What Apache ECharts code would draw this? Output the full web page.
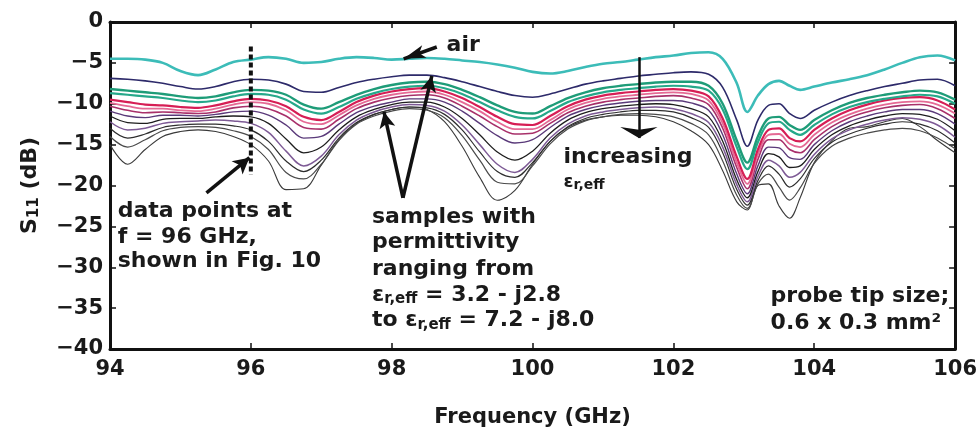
<!DOCTYPE html>
<html><head><meta charset="utf-8">
<script src="https://cdn.jsdelivr.net/npm/echarts@6/dist/echarts.min.js"></script>
<style>html,body{margin:0;padding:0;background:#fff}#c{width:980px;height:445px}</style>
</head><body><div id="c"></div>
<script>
const freq = [94,94.25,94.5,94.75,95,95.25,95.5,95.75,96,96.25,96.5,96.75,97,97.25,97.5,97.75,98,98.25,98.5,98.75,99,99.25,99.5,99.75,100,100.25,100.5,100.75,101,101.25,101.5,101.75,102,102.25,102.5,102.7,102.9,103.05,103.2,103.35,103.5,103.65,103.8,104,104.25,104.5,104.75,105,105.25,105.5,105.75,106];

const sAir = [-4.5,-4.5,-4.6,-5.0,-6.0,-6.5,-5.8,-4.9,-4.6,-4.3,-4.5,-5.0,-4.9,-4.5,-4.3,-4.4,-4.6,-4.5,-4.4,-4.5,-4.7,-4.9,-5.2,-5.6,-6.1,-6.3,-6.0,-5.5,-5.1,-4.9,-4.6,-4.3,-4.1,-3.8,-3.7,-4.5,-7.5,-11.0,-9.0,-7.6,-7.2,-7.8,-8.3,-7.9,-7.4,-7.0,-6.5,-5.8,-5.0,-4.3,-4.1,-4.7];
const s02 = [-6.9,-7.0,-7.2,-7.5,-7.9,-8.2,-7.9,-7.3,-7.0,-7.1,-7.6,-8.5,-8.6,-8.0,-7.4,-7.0,-6.7,-6.5,-6.5,-6.8,-7.3,-7.9,-8.5,-9.0,-9.2,-8.8,-8.2,-7.6,-7.2,-6.9,-6.6,-6.4,-6.2,-6.1,-6.4,-8.0,-12.0,-15.2,-12.0,-10.2,-10.0,-11.2,-11.8,-10.8,-9.8,-9.0,-8.4,-7.9,-7.5,-7.1,-7.0,-7.8];
const s03 = [-8.2,-8.4,-8.6,-8.8,-9.1,-9.3,-9.1,-8.6,-8.3,-8.4,-8.9,-10.1,-10.6,-9.8,-8.9,-8.2,-7.7,-7.4,-7.3,-7.6,-8.3,-9.2,-10.2,-11.0,-11.2,-10.3,-9.3,-8.6,-8.1,-7.8,-7.6,-7.4,-7.3,-7.3,-7.8,-10.0,-14.5,-17.2,-14.0,-11.8,-11.6,-12.6,-13.2,-12.0,-10.8,-9.9,-9.3,-8.9,-8.6,-8.4,-8.6,-9.5];
const s04 = [-8.7,-8.9,-9.1,-9.3,-9.6,-9.8,-9.6,-9.1,-8.8,-8.9,-9.5,-10.7,-11.2,-10.4,-9.4,-8.7,-8.2,-7.9,-7.8,-8.1,-8.8,-9.8,-10.8,-11.6,-11.8,-10.9,-9.8,-9.1,-8.6,-8.3,-8.1,-7.9,-7.8,-7.9,-8.4,-10.7,-15.3,-18.0,-14.7,-12.4,-12.2,-13.2,-13.8,-12.6,-11.3,-10.4,-9.8,-9.4,-9.1,-8.9,-9.1,-10.0];
const s05 = [-9.5,-9.8,-10.1,-10.2,-10.4,-10.5,-10.2,-9.7,-9.4,-9.6,-10.3,-11.6,-12.0,-11.0,-9.8,-9.0,-8.5,-8.2,-8.1,-8.5,-9.3,-10.4,-11.6,-12.5,-12.6,-11.5,-10.3,-9.5,-9.0,-8.7,-8.5,-8.3,-8.2,-8.4,-9.1,-11.8,-16.5,-19.2,-15.6,-13.2,-13.0,-14.2,-14.6,-13.2,-11.8,-10.8,-10.1,-9.6,-9.3,-9.2,-9.6,-10.7];
const s06 = [-9.9,-10.3,-10.6,-10.6,-10.8,-10.9,-10.6,-10.1,-9.8,-10.0,-10.8,-12.2,-12.5,-11.4,-10.2,-9.4,-8.9,-8.6,-8.5,-8.9,-9.8,-10.9,-12.2,-13.1,-13.1,-12.0,-10.7,-9.9,-9.4,-9.1,-8.9,-8.7,-8.6,-8.8,-9.6,-12.4,-17.2,-19.8,-16.2,-13.8,-13.7,-14.9,-15.3,-13.8,-12.3,-11.3,-10.6,-10.1,-9.8,-9.7,-10.1,-11.2];
const s07 = [-10.3,-10.8,-11.1,-11.0,-11.1,-11.2,-11.0,-10.5,-10.3,-10.6,-11.5,-12.9,-13.1,-11.9,-10.6,-9.8,-9.3,-9.0,-8.9,-9.3,-10.3,-11.5,-12.8,-13.7,-13.6,-12.4,-11.1,-10.3,-9.8,-9.5,-9.3,-9.1,-9.0,-9.3,-10.1,-13.0,-17.8,-20.4,-16.8,-14.4,-14.4,-15.6,-16.0,-14.4,-12.8,-11.7,-11.0,-10.5,-10.2,-10.1,-10.6,-11.8];
const s08 = [-10.9,-11.5,-11.7,-11.4,-11.4,-11.5,-11.3,-11.0,-10.9,-11.4,-12.6,-14.2,-14.0,-12.5,-11.1,-10.3,-9.8,-9.4,-9.4,-9.8,-10.9,-12.4,-13.9,-14.8,-14.4,-12.9,-11.5,-10.7,-10.2,-9.9,-9.7,-9.6,-9.6,-9.9,-10.8,-13.8,-18.6,-21.0,-17.6,-15.3,-15.4,-16.6,-16.8,-15.0,-13.3,-12.2,-11.5,-11.0,-10.7,-10.7,-11.2,-12.5];
const s09 = [-11.5,-12.3,-12.4,-11.9,-11.8,-11.8,-11.6,-11.5,-11.6,-12.4,-14.3,-16.0,-15.3,-13.2,-11.6,-10.7,-10.1,-9.8,-9.8,-10.4,-11.8,-13.8,-15.9,-16.9,-15.8,-13.6,-12.0,-11.1,-10.6,-10.3,-10.1,-10.0,-10.1,-10.6,-11.6,-14.6,-19.3,-21.5,-18.3,-16.1,-16.5,-17.8,-17.6,-15.6,-13.8,-12.7,-12.0,-11.5,-11.2,-11.3,-11.9,-13.3];
const s10 = [-12.2,-13.2,-13.0,-12.4,-12.2,-12.1,-12.0,-12.1,-12.4,-13.5,-15.8,-17.6,-16.4,-13.8,-12.0,-11.0,-10.4,-10.1,-10.2,-10.9,-12.6,-15.0,-17.4,-18.4,-16.8,-14.2,-12.5,-11.5,-11.0,-10.7,-10.5,-10.4,-10.6,-11.2,-12.3,-15.3,-19.9,-22.0,-18.9,-16.9,-17.6,-19.0,-18.4,-16.2,-14.3,-13.2,-12.5,-12.0,-11.7,-11.9,-12.6,-14.1];
const s11 = [-13.0,-14.2,-13.7,-12.9,-12.6,-12.5,-12.5,-12.7,-13.2,-14.6,-17.0,-18.3,-16.9,-14.2,-12.3,-11.3,-10.7,-10.4,-10.5,-11.3,-13.2,-15.9,-18.3,-19.0,-17.2,-14.6,-12.8,-11.8,-11.3,-11.0,-10.8,-10.8,-11.0,-11.7,-12.9,-16.0,-20.5,-22.4,-19.4,-17.6,-18.6,-20.2,-19.2,-16.7,-14.7,-13.7,-13.0,-12.5,-12.2,-12.5,-13.3,-14.8];
const s12 = [-14.0,-15.3,-14.4,-13.3,-12.9,-12.8,-12.9,-13.3,-14.0,-15.6,-18.4,-19.2,-17.4,-14.5,-12.5,-11.5,-10.9,-10.6,-10.8,-11.7,-13.9,-16.9,-19.6,-19.8,-17.6,-14.9,-13.1,-12.1,-11.6,-11.3,-11.2,-11.3,-11.6,-12.4,-13.8,-17.0,-21.2,-22.8,-19.8,-18.6,-20.2,-21.8,-20.3,-17.3,-15.2,-14.2,-13.6,-13.2,-13.0,-13.3,-14.2,-15.5];
const s13 = [-15.0,-17.4,-15.6,-14.0,-13.4,-13.2,-13.4,-14.0,-15.0,-17.0,-20.5,-20.4,-17.5,-14.4,-12.4,-11.3,-10.7,-10.4,-10.7,-12.2,-15.2,-19.0,-21.8,-20.6,-17.4,-14.6,-12.9,-12.0,-11.6,-11.4,-11.4,-11.6,-12.2,-13.3,-15.0,-18.2,-22.0,-23.0,-20.0,-19.8,-22.5,-24.0,-21.5,-17.2,-14.5,-13.0,-12.8,-12.2,-11.8,-12.8,-14.5,-16.0];

const xTicks = [94, 96, 98, 100, 102, 104, 106];
const yTicks = [0, -5, -10, -15, -20, -25, -30, -35, -40];

const chart = echarts.init(document.getElementById('c'), null, {renderer: 'canvas'});

const curves = [
  {v: s13, c: '#3a3a3a', w: 1.1},
  {v: s12, c: '#4a4a4a', w: 1.2},
  {v: s11, c: '#2e2e2e', w: 1.2},
  {v: s10, c: '#7d5a95', w: 1.5},
  {v: s09, c: '#1e1e1e', w: 1.3},
  {v: s08, c: '#5a3a7a', w: 1.4},
  {v: s07, c: '#a8306a', w: 1.6},
  {v: s06, c: '#e56a95', w: 1.8},
  {v: s05, c: '#d61e55', w: 2.2},
  {v: s04, c: '#26a88a', w: 2.2},
  {v: s03, c: '#1e9c78', w: 2.4},
  {v: s02, c: '#2d2a6a', w: 1.6},
  {v: sAir, c: '#3cbcb8', w: 2.6}
];

const FONT = 'DejaVu Sans';
const txt = {color: '#1a1a1a', fontFamily: FONT, fontWeight: 'bold', fontSize: 22};
const rich = {
  t: {color: '#1a1a1a', fontFamily: FONT, fontWeight: 'bold', fontSize: 22},
  s: {color: '#1a1a1a', fontFamily: FONT, fontWeight: 'bold', fontSize: 15, padding: [9, 0, 0, 0]},
  e: {color: '#1a1a1a', fontFamily: FONT, fontWeight: 'bold', fontSize: 18},
  es: {color: '#1a1a1a', fontFamily: FONT, fontWeight: 'bold', fontSize: 14, padding: [7, 0, 0, 0]}
};

const notes = [
  [94.11, -23.2, '{t|data points at}'],
  [94.11, -26.3, '{t|f = 96 GHz,}'],
  [94.11, -29.3, '{t|shown in Fig. 10}'],
  [97.72, -23.9, '{t|samples with}'],
  [97.72, -27.0, '{t|permittivity}'],
  [97.72, -30.2, '{t|ranging from}'],
  [97.72, -33.4, '{t|ε}{s|r,eff}{t| = 3.2 - j2.8}'],
  [97.72, -36.5, '{t|to ε}{s|r,eff}{t| = 7.2 - j8.0}'],
  [100.44, -16.6, '{t|increasing}'],
  [100.44, -19.6, '{e|ε}{es|r,eff}'],
  [98.78, -2.8, '{t|air}'],
  [103.38, -33.6, '{t|probe tip size;}'],
  [103.38, -36.9, '{t|0.6 x 0.3 mm²}']
];

const arrows = [
  [[98.64, -3.06], [98.17, -4.5], [10, 22], 3.5],
  [[95.37, -20.9], [95.98, -16.6], [13, 16], 3.5],
  [[98.16, -21.5], [97.89, -11.0], [12, 16], 3.5],
  [[98.16, -21.5], [98.57, -6.6], [12, 16], 3.5],
  [[101.51, -4.3], [101.51, -14.2], [28, 11], 2.5]
];

const series = curves.map(cv => ({
  type: 'line', data: freq.map((f, i) => [f, cv.v[i]]), smooth: 0.35, symbol: 'none',
  lineStyle: {color: cv.c, width: cv.w}, silent: true, z: 2
}));

series.push({
  type: 'line', data: [[96, -3.0], [96, -18.7]], symbol: 'none', z: 5, silent: true,
  lineStyle: {color: '#111', width: 4, type: [5, 3]}
});

series.push({
  type: 'line', data: [], symbol: 'none', silent: true, z: 6,
  markLine: {
    silent: true, animation: false, label: {show: false},
    data: arrows.map(a => [
      {coord: a[0], symbol: 'none', lineStyle: {color: '#111', width: a[3], type: 'solid'}},
      {coord: a[1], symbol: 'arrow', symbolSize: a[2]}
    ])
  },
  markPoint: {
    silent: true, animation: false, symbol: 'circle', symbolSize: 0,
    data: notes.map(n => ({
      coord: [n[0], n[1]],
      label: Object.assign({show: true, position: 'right', distance: 0, formatter: n[2], rich: rich}, txt)
    }))
  }
});

const axisFont = {color: '#1a1a1a', fontFamily: FONT, fontWeight: 'bold', fontSize: 21};

chart.setOption({
  animation: false,
  backgroundColor: '#fff',
  grid: {left: 110, right: 22, top: 22, bottom: 96, containLabel: false},
  xAxis: [{
    type: 'value', min: xTicks[0], max: xTicks[xTicks.length - 1], interval: 2,
    axisLine: {show: true, onZero: false, lineStyle: {color: '#111', width: 3}},
    axisTick: {show: true, inside: true, length: 6, lineStyle: {color: '#111', width: 1.5}},
    axisLabel: Object.assign({margin: 10}, axisFont),
    splitLine: {show: false},
    name: 'Frequency (GHz)', nameLocation: 'middle', nameGap: 58,
    nameTextStyle: {color: '#1a1a1a', fontFamily: FONT, fontWeight: 'bold', fontSize: 21}
  }, {
    type: 'value', position: 'top', min: xTicks[0], max: xTicks[xTicks.length - 1], interval: 2,
    axisLine: {show: true, onZero: false, lineStyle: {color: '#111', width: 3}},
    axisTick: {show: true, inside: true, length: 6, lineStyle: {color: '#111', width: 1.5}},
    axisLabel: {show: false}, splitLine: {show: false}
  }],
  yAxis: [{
    type: 'value', min: yTicks[yTicks.length - 1], max: yTicks[0], interval: 5,
    axisLine: {show: true, onZero: false, lineStyle: {color: '#111', width: 3}},
    axisTick: {show: true, inside: true, length: 6, lineStyle: {color: '#111', width: 1.5}},
    axisLabel: Object.assign({margin: 7, formatter: v => (v < 0 ? '\u2212' : '') + Math.abs(v)}, axisFont),
    splitLine: {show: false},
    name: '{a|S}{b|11}{a| (dB)}', nameLocation: 'middle', nameGap: 68, nameRotate: 90,
    nameTextStyle: {rich: {
      a: {color: '#1a1a1a', fontFamily: FONT, fontWeight: 'bold', fontSize: 22},
      b: {color: '#1a1a1a', fontFamily: FONT, fontWeight: 'bold', fontSize: 15, padding: [9, 0, 0, 0]}
    }}
  }, {
    type: 'value', position: 'right', min: yTicks[yTicks.length - 1], max: yTicks[0], interval: 5,
    axisLine: {show: true, onZero: false, lineStyle: {color: '#111', width: 3}},
    axisTick: {show: true, inside: true, length: 6, lineStyle: {color: '#111', width: 1.5}},
    axisLabel: {show: false}, splitLine: {show: false}
  }],
  series: series
});
</script></body></html>
